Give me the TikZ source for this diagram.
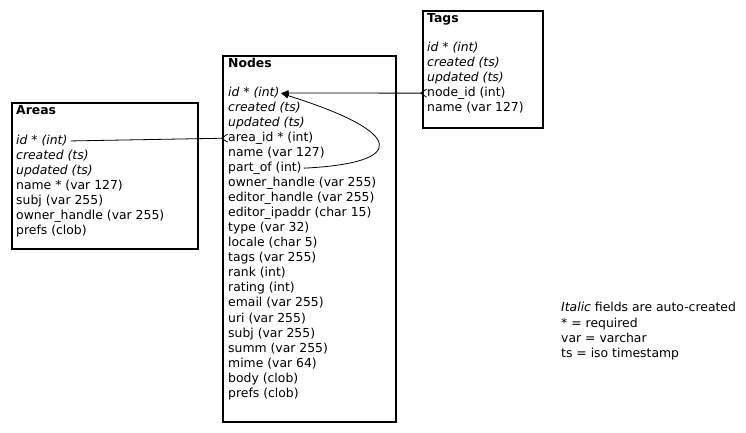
\documentclass[tikz,border=0pt]{standalone}
\usepackage{fontspec}
\setmainfont{DejaVu Sans}
\usetikzlibrary{arrows.meta,positioning,calc}

\tikzset{
  tbl/.style={draw,line width=1.2pt},
  ttl/.style={anchor=west,inner sep=0pt,font=\fontsize{12.4}{15}\selectfont\bfseries,text height=9.5pt,text depth=3pt},
  fld/.style={anchor=west,inner sep=0pt,font=\fontsize{12.4}{15}\selectfont,text height=9.5pt,text depth=3pt},
  link/.style={line width=0.8pt},
  crowfoot/.tip={Straight Barb[reversed,length=6pt,width=8pt]},
  headtip/.tip={Latex[length=8pt,width=6pt]},
}

\begin{document}
\begin{tikzpicture}[x=1pt,y=-1pt]
  \useasboundingbox (0,0) rectangle (746,433);
  % tables
  \draw[tbl] (12,103) rectangle (198,249);
  \draw[tbl] (223,56) rectangle (396,422);
  \draw[tbl] (423,11) rectangle (543,128);
  \node[ttl] (areas) at (16,111) {Areas};
  \node[ttl] (nodes) at (228,64) {Nodes};
  \node[ttl] (tags) at (427,19) {Tags};
  % fields, first three are auto-created
  \foreach \f [count=\i] in {id * (int),created (ts),updated (ts),name * (var 127),subj (var 255),owner\_handle (var 255),prefs (clob)}
    \node[fld] (a\i) at (16,{141+15.05*(\i-1)}) {\ifnum\i<4 \itshape\fi\f};
  \foreach \f [count=\i] in {id * (int),created (ts),updated (ts),area\_id * (int),name (var 127),part\_of (int),owner\_handle (var 255),editor\_handle (var 255),editor\_ipaddr (char 15),type (var 32),locale (char 5),tags (var 255),rank (int),rating (int),email (var 255),uri (var 255),subj (var 255),summ (var 255),mime (var 64),body (clob),prefs (clob)}
    \node[fld] (n\i) at (228,{93+15.05*(\i-1)}) {\ifnum\i<4 \itshape\fi\f};
  \foreach \f [count=\i] in {id * (int),created (ts),updated (ts),node\_id (int),name (var 127)}
    \node[fld] (t\i) at (427,{48+15.05*(\i-1)}) {\ifnum\i<4 \itshape\fi\f};
  % links
  \draw[link,-crowfoot,shorten <=3pt] (a1.east) -- (n4.west);
  \draw[link,crowfoot-headtip,shorten >=1pt] (t4.west) -- (n1.east);
  \draw[link,-headtip,shorten <=2pt,shorten >=1pt] (n6.east) .. controls ($(n6.east)+(105,-5)$) and ($(n1.east)+(128,40)$) .. (n1.east);
  % legend
  \node[fld] (key1) at (561,308) {\textit{Italic} fields are auto-created};
  \node[fld] (key2) at (561,324) {* = required};
  \node[fld] (key3) at (561,339) {var = varchar};
  \node[fld] (key4) at (561,354) {ts = iso timestamp};
\end{tikzpicture}
\end{document}
